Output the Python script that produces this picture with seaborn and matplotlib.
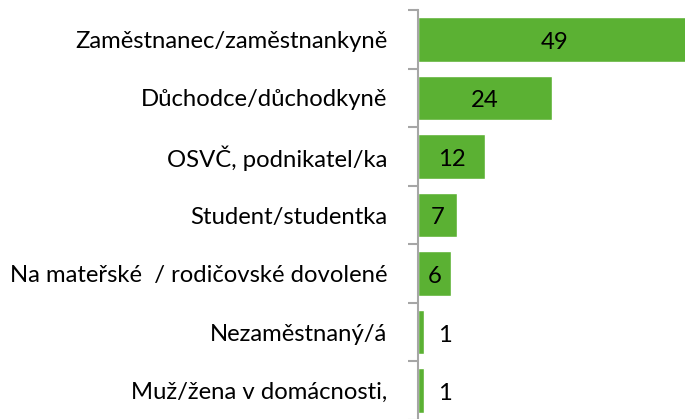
import matplotlib
matplotlib.use("Agg")
import matplotlib.pyplot as plt
import seaborn as sns
import pandas as pd
import numpy as np

categories = [
    "Zaměstnanec/zaměstnankyně",
    "Důchodce/důchodkyně",
    "OSVČ, podnikatel/ka",
    "Student/studentka",
    "Na mateřské  / rodičovské dovolené",
    "Nezaměstnaný/á",
    "Muž/žena v domácnosti,",
]
values = [49, 24, 12, 7, 6, 1, 1]

df = pd.DataFrame({"category": categories, "value": values})

sns.set_theme(style="white")
plt.rcParams["font.family"] = ["Lato", "DejaVu Sans"]

W, H = 685, 419
fig = plt.figure(figsize=(W / 100, H / 100), dpi=100)
ax_left, ax_top, ax_bottom = 418, 10, 420
ax = fig.add_axes([ax_left / W, 1 - ax_bottom / H, (W - ax_left) / W, (ax_bottom - ax_top) / H])

green = "#5BB133"
sns.barplot(data=df, x="value", y="category", orient="h", color=green,
            saturation=1, width=0.76, ax=ax)

px_per_unit = 5.58
ax.set_xlim(0, (W - ax_left) / px_per_unit)
ax.set_ylim(len(categories) - 0.5, -0.5)

for s in ["top", "right", "bottom"]:
    ax.spines[s].set_visible(False)
ax.spines["left"].set_color("#A6A6A6")
ax.spines["left"].set_linewidth(1.5)

ax.set_xticks([])
ax.set_xlabel("")
ax.set_ylabel("")
ax.set_yticks(np.arange(len(categories)))
ax.set_yticklabels(categories, fontsize=17.2, color="#000000")
ax.set_yticks(np.arange(-0.5, len(categories), 1), minor=True)
ax.tick_params(axis="y", which="major", length=0, pad=22)
ax.tick_params(axis="y", which="minor", length=7, width=1.5, color="#A6A6A6", left=True)

for i, v in enumerate(values):
    if v >= 5:
        x = v / 2
    else:
        x = v + 3.8
    ax.text(x, i + 0.05, str(v), ha="center", va="center", fontsize=17.2, color="#000000")

fig.savefig("out.png", dpi=100)
